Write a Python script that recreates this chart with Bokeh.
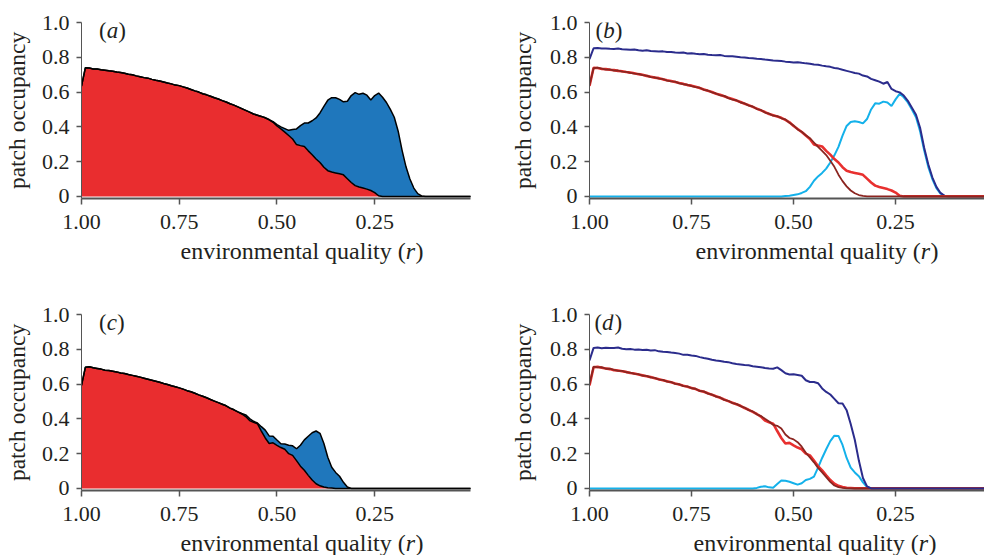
from bokeh.plotting import figure
from bokeh.models import Range1d, FixedTicker, Label, ColumnDataSource
from bokeh.layouts import column, row
from bokeh.embed import file_html
from bokeh.resources import INLINE

# environmental quality r (x values), 1.00 -> 0.00
R = [1.00, 0.99, 0.98, 0.97, 0.96, 0.95, 0.94, 0.93, 0.92, 0.91,
     0.90, 0.89, 0.88, 0.87, 0.86, 0.85, 0.84, 0.83, 0.82, 0.81,
     0.80, 0.79, 0.78, 0.77, 0.76, 0.75, 0.74, 0.73, 0.72, 0.71,
     0.70, 0.69, 0.68, 0.67, 0.66, 0.65, 0.64, 0.63, 0.62, 0.61,
     0.60, 0.59, 0.58, 0.57, 0.56, 0.55, 0.54, 0.53, 0.52, 0.51,
     0.50, 0.49, 0.48, 0.47, 0.46, 0.45, 0.44, 0.43, 0.42, 0.41,
     0.40, 0.39, 0.38, 0.37, 0.36, 0.35, 0.34, 0.33, 0.32, 0.31,
     0.30, 0.29, 0.28, 0.27, 0.26, 0.25, 0.24, 0.23, 0.22, 0.21,
     0.20, 0.19, 0.18, 0.17, 0.16, 0.15, 0.14, 0.13, 0.12, 0.11,
     0.10, 0.05, 0.00]

# ---- scenario 1: panels (a) and (b) ----
NAVY_1 = [0.790, 0.852, 0.853, 0.850, 0.851, 0.849, 0.848, 0.850, 0.846, 0.845,
          0.843, 0.845, 0.840, 0.838, 0.840, 0.836, 0.835, 0.833, 0.834, 0.830,
          0.831, 0.828, 0.826, 0.827, 0.822, 0.823, 0.820, 0.818, 0.819, 0.815,
          0.813, 0.812, 0.813, 0.808, 0.806, 0.806, 0.803, 0.800, 0.799, 0.796,
          0.795, 0.792, 0.790, 0.787, 0.785, 0.782, 0.780, 0.778, 0.775, 0.773,
          0.770, 0.772, 0.768, 0.765, 0.763, 0.758, 0.757, 0.752, 0.748, 0.745,
          0.738, 0.735, 0.728, 0.722, 0.716, 0.710, 0.706, 0.695, 0.690, 0.676,
          0.668, 0.660, 0.648, 0.658, 0.618, 0.605, 0.598, 0.580, 0.550, 0.510,
          0.470, 0.395, 0.280, 0.185, 0.110, 0.055, 0.020, 0.004, 0, 0,
          0, 0, 0]
CYAN_1 = [0, 0, 0, 0, 0, 0, 0, 0, 0, 0,
          0, 0, 0, 0, 0, 0, 0, 0, 0, 0,
          0, 0, 0, 0, 0, 0, 0, 0, 0, 0,
          0, 0, 0, 0, 0, 0, 0, 0, 0, 0,
          0, 0, 0, 0, 0, 0, 0, 0, 0.002, 0.004,
          0.008, 0.012, 0.020, 0.030, 0.055, 0.090, 0.115, 0.135, 0.160, 0.195,
          0.236, 0.285, 0.350, 0.405, 0.428, 0.432, 0.428, 0.420, 0.445, 0.500,
          0.535, 0.533, 0.545, 0.540, 0.520, 0.558, 0.590, 0.570, 0.540, 0.500,
          0.455, 0.375, 0.265, 0.170, 0.100, 0.048, 0.016, 0.003, 0, 0,
          0, 0, 0]
RED_1 = [0.635, 0.740, 0.738, 0.733, 0.732, 0.728, 0.726, 0.722, 0.720, 0.715,
         0.712, 0.708, 0.703, 0.700, 0.693, 0.688, 0.683, 0.680, 0.673, 0.668,
         0.664, 0.658, 0.652, 0.647, 0.640, 0.637, 0.630, 0.623, 0.615, 0.607,
         0.600, 0.590, 0.584, 0.576, 0.567, 0.560, 0.551, 0.543, 0.533, 0.525,
         0.515, 0.505, 0.495, 0.485, 0.474, 0.467, 0.460, 0.452, 0.440, 0.426,
         0.405, 0.388, 0.370, 0.350, 0.330, 0.298, 0.292, 0.287, 0.262, 0.240,
         0.215, 0.195, 0.168, 0.148, 0.140, 0.135, 0.130, 0.124, 0.102, 0.080,
         0.062, 0.054, 0.048, 0.042, 0.034, 0.022, 0.004, 0, 0, 0,
         0, 0, 0, 0, 0, 0, 0, 0, 0, 0,
         0, 0, 0]
BROWN_1 = [0.640, 0.737, 0.740, 0.735, 0.729, 0.730, 0.723, 0.724, 0.717, 0.716,
           0.710, 0.706, 0.705, 0.697, 0.695, 0.686, 0.685, 0.677, 0.675, 0.666,
           0.662, 0.660, 0.650, 0.645, 0.642, 0.634, 0.628, 0.625, 0.613, 0.609,
           0.598, 0.592, 0.581, 0.578, 0.565, 0.557, 0.553, 0.540, 0.535, 0.522,
           0.517, 0.502, 0.497, 0.482, 0.476, 0.464, 0.462, 0.449, 0.443, 0.423,
           0.408, 0.385, 0.372, 0.352, 0.335, 0.310, 0.285, 0.262, 0.238, 0.205,
           0.170, 0.125, 0.088, 0.058, 0.034, 0.018, 0.008, 0.003, 0, 0,
           0, 0, 0, 0, 0, 0, 0, 0, 0, 0,
           0, 0, 0, 0, 0, 0, 0, 0, 0, 0,
           0, 0, 0]

# ---- scenario 2: panels (c) and (d) ----
NAVY_2 = [0.736, 0.808, 0.810, 0.806, 0.809, 0.807, 0.808, 0.810, 0.803, 0.800,
          0.802, 0.798, 0.799, 0.796, 0.797, 0.793, 0.795, 0.788, 0.786, 0.785,
          0.781, 0.778, 0.775, 0.768, 0.768, 0.764, 0.762, 0.755, 0.750, 0.746,
          0.740, 0.736, 0.733, 0.728, 0.726, 0.720, 0.716, 0.713, 0.710, 0.708,
          0.703, 0.700, 0.697, 0.693, 0.690, 0.688, 0.696, 0.680, 0.662, 0.655,
          0.656, 0.652, 0.648, 0.622, 0.612, 0.612, 0.605, 0.575, 0.555, 0.540,
          0.515, 0.490, 0.488, 0.450, 0.370, 0.280, 0.160, 0.060, 0.012, 0,
          0, 0, 0, 0, 0, 0, 0, 0, 0, 0,
          0, 0, 0, 0, 0, 0, 0, 0, 0, 0,
          0, 0, 0]
CYAN_2 = [0, 0, 0, 0, 0, 0, 0, 0, 0, 0,
          0, 0, 0, 0, 0, 0, 0, 0, 0, 0,
          0, 0, 0, 0, 0, 0, 0, 0, 0, 0,
          0, 0, 0, 0, 0, 0, 0, 0, 0, 0,
          0, 0.003, 0.010, 0.012, 0.006, 0.004, 0.025, 0.045, 0.044, 0.038,
          0.030, 0.022, 0.030, 0.048, 0.055, 0.068, 0.120, 0.175, 0.225, 0.272,
          0.303, 0.302, 0.250, 0.175, 0.120, 0.092, 0.070, 0.035, 0.008, 0,
          0, 0, 0, 0, 0, 0, 0, 0, 0, 0,
          0, 0, 0, 0, 0, 0, 0, 0, 0, 0,
          0, 0, 0]
RED_2 = [0.592, 0.697, 0.699, 0.694, 0.690, 0.686, 0.680, 0.678, 0.674, 0.670,
         0.664, 0.661, 0.655, 0.650, 0.645, 0.640, 0.634, 0.628, 0.622, 0.616,
         0.610, 0.603, 0.597, 0.590, 0.585, 0.578, 0.571, 0.562, 0.556, 0.547,
         0.538, 0.530, 0.521, 0.511, 0.502, 0.493, 0.484, 0.475, 0.462, 0.452,
         0.440, 0.428, 0.413, 0.390, 0.380, 0.372, 0.330, 0.290, 0.258, 0.262,
         0.248, 0.235, 0.225, 0.200, 0.190, 0.160, 0.128, 0.104, 0.075, 0.048,
         0.027, 0.015, 0.008, 0.004, 0.002, 0, 0, 0, 0, 0,
         0, 0, 0, 0, 0, 0, 0, 0, 0, 0,
         0, 0, 0, 0, 0, 0, 0, 0, 0, 0,
         0, 0, 0]
BROWN_2 = [0.600, 0.700, 0.696, 0.697, 0.688, 0.689, 0.682, 0.676, 0.676, 0.668,
           0.666, 0.659, 0.657, 0.648, 0.647, 0.638, 0.636, 0.626, 0.624, 0.614,
           0.612, 0.601, 0.599, 0.588, 0.587, 0.576, 0.573, 0.560, 0.558, 0.545,
           0.540, 0.528, 0.523, 0.509, 0.504, 0.491, 0.486, 0.473, 0.465, 0.450,
           0.443, 0.426, 0.416, 0.400, 0.385, 0.365, 0.360, 0.345, 0.310, 0.290,
           0.282, 0.266, 0.240, 0.205, 0.178, 0.150, 0.118, 0.092, 0.065, 0.038,
           0.017, 0.007, 0.003, 0, 0, 0, 0, 0, 0, 0,
           0, 0, 0, 0, 0, 0, 0, 0, 0, 0,
           0, 0, 0, 0, 0, 0, 0, 0, 0, 0,
           0, 0, 0]

Y_TICKS = [0, 0.2, 0.4, 0.6, 0.8, 1.0]
Y_TICK_LABELS = ["0", "0.2", "0.4", "0.6", "0.8", "1.0"]
X_TICKS = [1.0, 0.75, 0.5, 0.25]
X_TICK_LABELS = ["1.00", "0.75", "0.50", "0.25"]
PANEL_LETTERS = ["a", "b", "c", "d"]
Y_TITLE = "patch occupancy"
X_TITLE_PARTS = ["environmental quality (", "r", ")"]

FONT = "Liberation Serif"
INK = "#231F20"
AXIS_GREY = "#555555"
RED_FILL = "#E92D2F"
BLUE_FILL = "#1F77BC"
NAVY = "#2B2C8C"
RED_LINE = "#E8302F"
BROWN = "#8B2520"
CYAN = "#14B1EA"


def make_fig(x_end, frame_w, b_left, b_right, b_top, b_bottom, ylab_standoff):
    p = figure(frame_width=frame_w, frame_height=176, title=None,
               x_range=Range1d(1.0, x_end), y_range=Range1d(-0.012, 1.0),
               output_backend="svg", toolbar_location=None,
               min_border_left=b_left, min_border_right=b_right,
               min_border_top=b_top, min_border_bottom=b_bottom)
    p.xgrid.visible = False
    p.ygrid.visible = False
    p.outline_line_color = None
    p.background_fill_color = "white"
    p.border_fill_color = "white"

    xa = p.xaxis[0]
    xa.ticker = FixedTicker(ticks=X_TICKS)
    xa.major_label_overrides = dict(zip(X_TICKS, X_TICK_LABELS))
    xa.axis_line_color = AXIS_GREY
    xa.axis_line_width = 2
    xa.major_tick_line_color = AXIS_GREY
    xa.major_tick_line_width = 1.5
    xa.major_tick_out = 6
    xa.major_tick_in = 0
    xa.minor_tick_out = 0
    xa.minor_tick_in = 0
    xa.major_label_text_font = FONT
    xa.major_label_text_font_size = "22px"
    xa.major_label_text_color = INK
    xa.major_label_standoff = 10

    ya = p.yaxis[0]
    ya.ticker = FixedTicker(ticks=Y_TICKS)
    ya.major_label_overrides = dict(zip(Y_TICKS, Y_TICK_LABELS))
    ya.axis_line_color = AXIS_GREY
    ya.axis_line_width = 1
    ya.major_tick_line_color = AXIS_GREY
    ya.major_tick_line_width = 1.5
    ya.major_tick_out = 5
    ya.major_tick_in = 0
    ya.minor_tick_out = 0
    ya.minor_tick_in = 0
    ya.major_label_text_font = FONT
    ya.major_label_text_font_size = "22px"
    ya.major_label_text_color = INK
    ya.major_label_standoff = 7
    ya.axis_label = Y_TITLE
    ya.axis_label_text_font = FONT
    ya.axis_label_text_font_size = "23.5px"
    ya.axis_label_text_font_style = "normal"
    ya.axis_label_text_color = INK
    ya.axis_label_standoff = ylab_standoff
    return p


def add_parts(p, x, y, parts, size):
    off = 0.0
    for txt, style, w in parts:
        p.add_layout(Label(x=x, y=y, x_offset=off, text=txt, text_font=FONT,
                           text_font_size=size, text_font_style=style,
                           text_color=INK, text_baseline="alphabetic",
                           text_align="left"))
        off += w


def panel_letter(p, letter, letter_w, lx, ly):
    add_parts(p, lx, ly, [("(", "normal", 7.7), (letter, "italic", letter_w), (")", "normal", 8)], "23px")


def title_strip(width, height, tx, ty):
    # a bare strip under a panel that carries the mixed upright/italic x-axis title
    s = figure(width=width, height=height, title=None,
               x_range=Range1d(0, width), y_range=Range1d(0, height),
               x_axis_type=None, y_axis_type=None, output_backend="svg", toolbar_location=None,
               min_border=0)
    s.outline_line_color = None
    s.xgrid.visible = False
    s.ygrid.visible = False
    s.background_fill_color = "white"
    s.border_fill_color = "white"
    add_parts(s, tx, ty, [(X_TITLE_PARTS[0], "normal", 225.3), (X_TITLE_PARTS[1], "italic", 9.8),
                          (X_TITLE_PARTS[2], "normal", 8)], "24px")
    return s


def area_panel(p, red, cyan):
    src = ColumnDataSource(dict(r=R, red=red, cyan=cyan))
    p.varea_stack(["red", "cyan"], x="r", source=src, color=[RED_FILL, BLUE_FILL])
    p.vline_stack(["red", "cyan"], x="r", source=src, color="black", line_width=1.5)


def line_panel(p, navy, cyan, red, brown, navy_on_top):
    src = ColumnDataSource(dict(r=R, navy=navy, cyan=cyan, red=red, brown=brown))
    p.line("r", "cyan", source=src, color=CYAN, line_width=2)
    if not navy_on_top:
        p.line("r", "navy", source=src, color=NAVY, line_width=2)
    p.line("r", "red", source=src, color=RED_LINE, line_width=2.6)
    p.line("r", "brown", source=src, color=BROWN, line_width=1.8)
    if navy_on_top:
        p.line("r", "navy", source=src, color=NAVY, line_width=2)


# left column: 79 + 389 + 36 = 504 px; right column: 78 + 402 = 480 px
pa = make_fig(0.005, 389, 79, 36, 22, 40, 9)
area_panel(pa, RED_1, CYAN_1)
panel_letter(pa, PANEL_LETTERS[0], 11.5, 0.955, 0.955)

pb = make_fig(0.015, 402, 78, 0, 22, 40, 11)
line_panel(pb, NAVY_1, CYAN_1, RED_1, BROWN_1, False)
panel_letter(pb, PANEL_LETTERS[1], 11.5, 0.985, 0.955)

pc = make_fig(0.005, 389, 79, 36, 16, 40, 9)
area_panel(pc, RED_2, CYAN_2)
panel_letter(pc, PANEL_LETTERS[2], 10.2, 0.955, 0.955)

pd = make_fig(0.015, 402, 78, 0, 16, 40, 11)
line_panel(pd, NAVY_2, CYAN_2, RED_2, BROWN_2, True)
panel_letter(pd, PANEL_LETTERS[3], 12.5, 0.988, 0.955)

sa = title_strip(504, 60, 180, 48)
sb = title_strip(480, 60, 191, 48)
sc = title_strip(504, 25, 180, 13)
sd = title_strip(480, 25, 189, 13)

layout = column(row(pa, pb), row(sa, sb), row(pc, pd), row(sc, sd))
open("out.html", "w").write(file_html(layout, INLINE))
